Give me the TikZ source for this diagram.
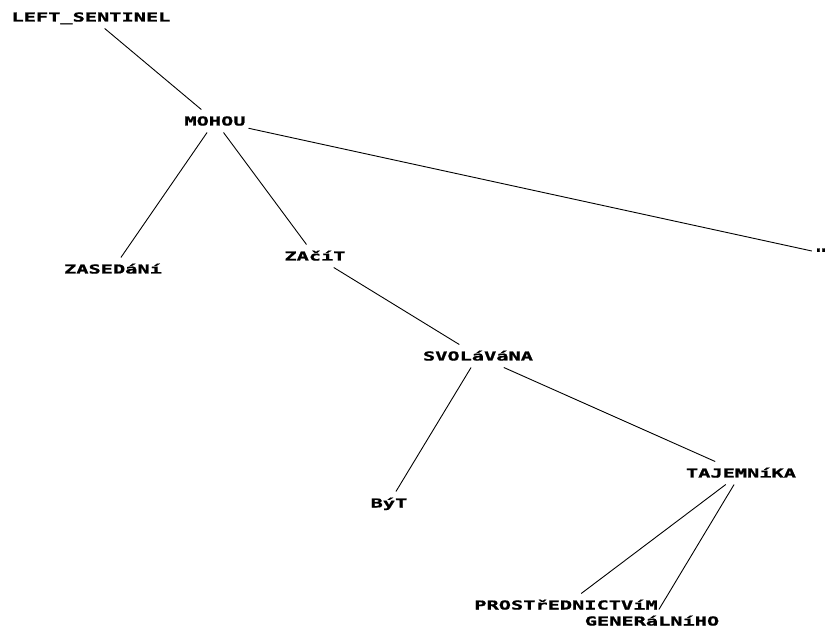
\documentclass[tikz,border=0pt]{standalone}
\usepackage{fontspec}
\newfontfamily\lblfont{DejaVu Sans Mono}[FakeStretch=1.65,BoldFeatures={FakeBold=1.2}]
\begin{document}
\begin{tikzpicture}[x=1pt,y=-1pt,
  lbl/.style={font=\lblfont\bfseries\fontsize{12.3}{12.3}\selectfont, text height=9pt, text depth=0pt,
    inner xsep=3pt, inner ysep=7pt, outer sep=0pt, anchor=center},
  edge/.style={draw=black, line width=0.9pt}]
\useasboundingbox (0,0) rectangle (831,628);
\fill[white] (0,0) rectangle (831,628);
\node[lbl] (ls) at (91,17) {LEFT\_SENTINEL};
\node[lbl] (mohou) at (215,121) {MOHOU};
\node[lbl] (zas) at (113,269) {ZASEDáNí};
\node[lbl] (zac) at (315,256) {ZAčíT};
\node[lbl] (q) at (821,253) {"};
\node[lbl] (svol) at (478,356) {SVOLáVáNA};
\node[lbl] (byt) at (389,503) {BýT};
\node[lbl] (taj) at (741,473) {TAJEMNíKA};
\node[lbl] (pros) at (566,605) {PROSTřEDNICTVíM};
\node[lbl] (gen) at (652,621) {GENERáLNíHO};
\draw[edge] (ls) -- (mohou);
\draw[edge] (mohou) -- (zas);
\draw[edge] (mohou) -- (zac);
\draw[edge] (mohou) -- (q);
\draw[edge] (zac) -- (svol);
\draw[edge] (svol) -- (byt);
\draw[edge] (svol) -- (taj);
\draw[edge] (taj) -- (pros);
\draw[edge] (taj) -- (gen);
\end{tikzpicture}
\end{document}
